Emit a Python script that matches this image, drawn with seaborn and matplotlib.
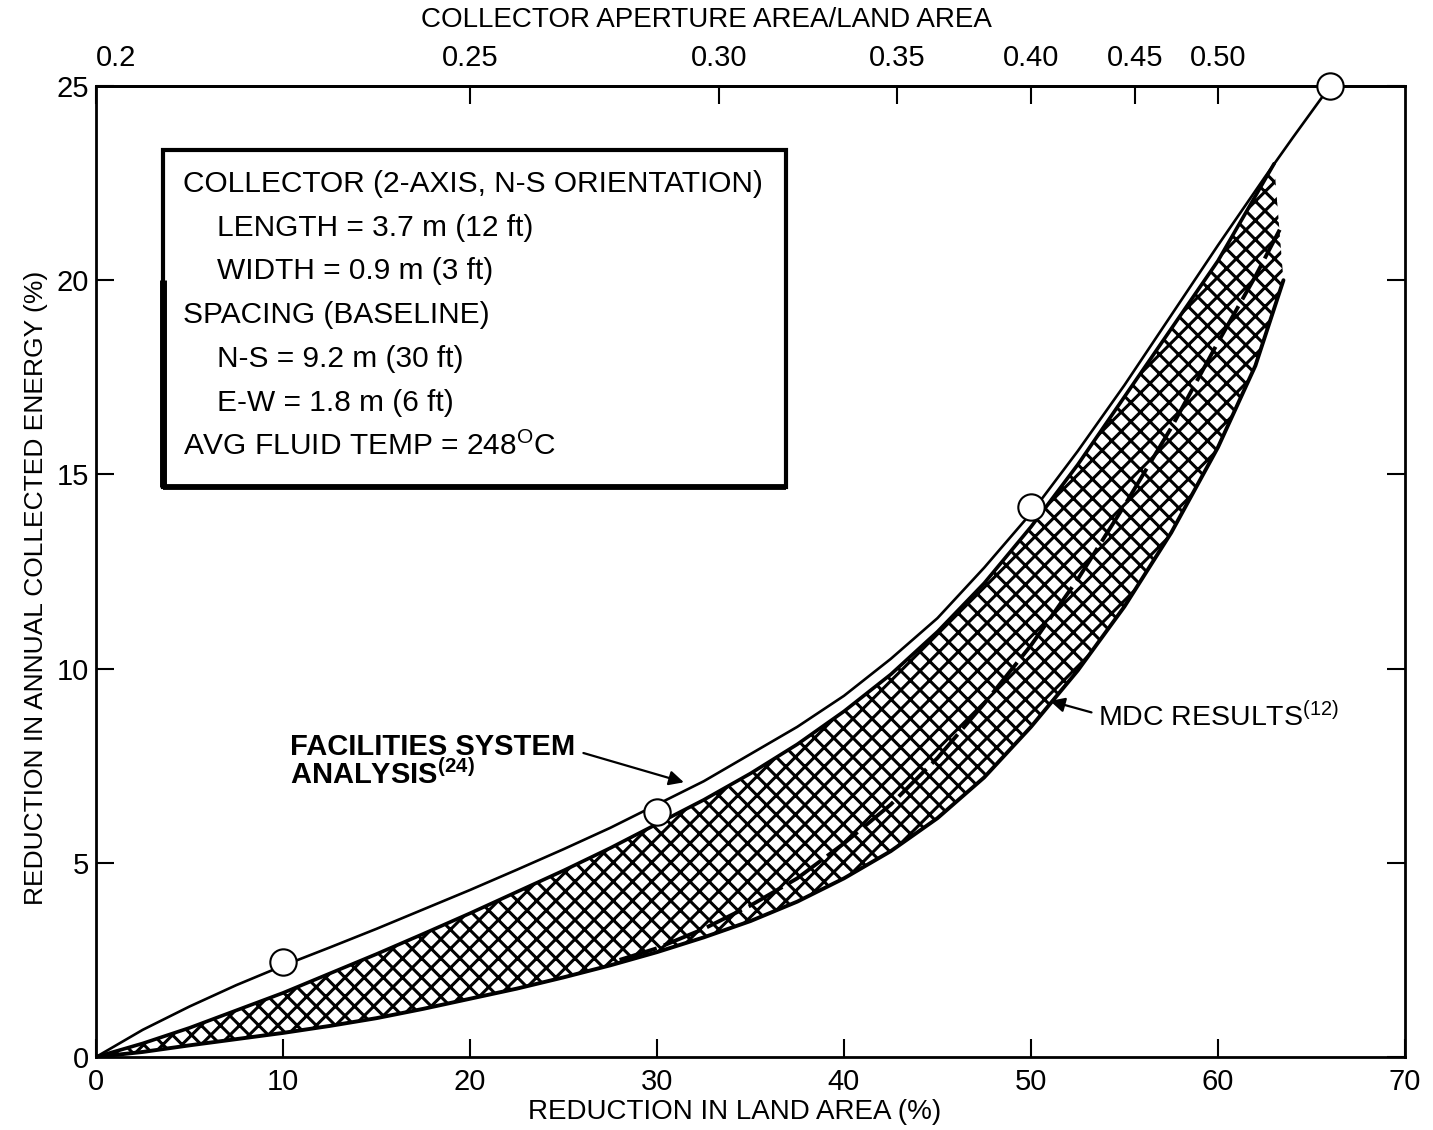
import numpy as np
import matplotlib
matplotlib.use("Agg")
import matplotlib.pyplot as plt
import seaborn as sns
from matplotlib.patches import Rectangle

# ---- data ----
land_fsa = [0, 2.5, 5, 7.5, 10, 12.5, 15, 17.5, 20, 22.5, 25, 27.5, 30, 32.5, 35, 37.5, 40,
            42.5, 45, 47.5, 50, 52.5, 55, 57.5, 60, 62.5, 64, 66]
energy_fsa = [0, 0.7, 1.3, 1.85, 2.35, 2.82, 3.3, 3.8, 4.3, 4.82, 5.35, 5.9, 6.5, 7.1, 7.8, 8.5, 9.3,
              10.25, 11.3, 12.6, 14.0, 15.6, 17.3, 19.1, 20.9, 22.65, 23.67, 25.0]

land_pts = [10, 30, 50, 66]
energy_pts = [2.45, 6.3, 14.15, 25.0]

land_band_top = [0, 2.5, 5, 7.5, 10, 12.5, 15, 17.5, 20, 22.5, 25, 27.5, 30, 32.5, 35, 37.5, 40,
                 42.5, 45, 47.5, 50, 52.5, 55, 57.5, 60, 63]
energy_band_top = [0, 0.35, 0.75, 1.2, 1.65, 2.15, 2.65, 3.17, 3.7, 4.25, 4.8, 5.38, 6.0, 6.62, 7.3,
                   8.05, 8.9, 9.85, 10.95, 12.2, 13.65, 15.25, 17.0, 18.75, 20.5, 23.0]

land_band_low = [0, 2.5, 5, 7.5, 10, 12.5, 15, 17.5, 20, 22.5, 25, 27.5, 30, 32.5, 35, 37.5, 40,
                 42.5, 45, 47.5, 50, 52.5, 55, 57.5, 60, 62, 63.5]
energy_band_low = [0, 0.13, 0.3, 0.46, 0.62, 0.8, 1.0, 1.24, 1.5, 1.76, 2.05, 2.36, 2.7, 3.08, 3.5,
                   4.0, 4.6, 5.3, 6.15, 7.2, 8.5, 9.95, 11.6, 13.5, 15.7, 17.8, 20.0]

land_mdc_mid = [28, 30, 32.5, 35, 37.5, 40, 42.5, 45, 47.5, 50, 52.5, 55, 57.5, 60, 62, 63.3]
energy_mdc_mid = [2.5, 2.8, 3.3, 3.9, 4.6, 5.5, 6.5, 7.7, 9.1, 10.6, 12.3, 14.2, 16.2, 18.4, 20.1, 21.3]

x_ticks = [0, 10, 20, 30, 40, 50, 60, 70]
y_ticks = [0, 5, 10, 15, 20, 25]
ratio_ticks = [0.2, 0.25, 0.30, 0.35, 0.40, 0.45, 0.50]
ratio_labels = ["0.2", "0.25", "0.30", "0.35", "0.40", "0.45", "0.50"]

box_lines = [
    ("COLLECTOR (2-AXIS, N-S ORIENTATION)", 0),
    ("LENGTH = 3.7 m (12 ft)", 1),
    ("WIDTH = 0.9 m (3 ft)", 1),
    ("SPACING (BASELINE)", 0),
    ("N-S = 9.2 m (30 ft)", 1),
    ("E-W = 1.8 m (6 ft)", 1),
    ("AVG FLUID TEMP = 248$^{O}$C", 0),
]

# ---- style ----
DPI = 115
S = 100.0 / DPI  # keep pixel sizes as designed at 100 dpi

sns.set_theme(style="ticks")
plt.rcParams["font.family"] = ["Liberation Sans", "DejaVu Sans"]
plt.rcParams["mathtext.default"] = "regular"
plt.rcParams["hatch.linewidth"] = 2.2 * S
plt.rcParams["hatch.color"] = "black"
for k in ["text.color", "axes.labelcolor", "xtick.color", "ytick.color", "axes.edgecolor"]:
    plt.rcParams[k] = "black"

fig = plt.figure(figsize=(1433 / DPI, 1130 / DPI), dpi=DPI)
ax = fig.add_axes([96 / 1433, 73 / 1130, 1309 / 1433, 971 / 1130])

# hatched band
poly_x = np.concatenate([land_band_top, land_band_low[::-1]])
poly_y = np.concatenate([energy_band_top, energy_band_low[::-1]])
ax.fill(poly_x, poly_y, facecolor="white", edgecolor="black", hatch="xx", linewidth=0, zorder=1)

sns.lineplot(x=land_band_top, y=energy_band_top, ax=ax, color="black", linewidth=2.6 * S, sort=False, zorder=3)
sns.lineplot(x=land_band_low, y=energy_band_low, ax=ax, color="black", linewidth=2.8 * S, sort=False, zorder=3)
sns.lineplot(x=land_mdc_mid, y=energy_mdc_mid, ax=ax, color="black", linewidth=2.8 * S, sort=False,
             linestyle=(0, (10, 2)), zorder=3)
sns.lineplot(x=land_fsa, y=energy_fsa, ax=ax, color="black", linewidth=1.9 * S, sort=False, zorder=3)
sns.scatterplot(x=land_pts, y=energy_pts, ax=ax, s=360 * S * S, facecolor="white", edgecolor="black",
                linewidth=1.5 * S, zorder=5, clip_on=False)

ax.set_xlim(0, 70)
ax.set_ylim(0, 25)
ax.set_xticks(x_ticks)
ax.set_yticks(y_ticks)
ax.tick_params(axis="both", direction="in", length=13 * S, width=1.5 * S, colors="black", labelsize=21 * S)
ax.tick_params(axis="y", right=True, pad=5 * S)
ax.tick_params(axis="x", top=False, pad=8 * S)
for s in ax.spines.values():
    s.set_visible(True)
    s.set_linewidth(2 * S)
    s.set_color("black")

ax.set_xlabel("REDUCTION IN LAND AREA (%)", fontsize=20 * S)
ax.xaxis.set_label_coords(0.488, -0.043)
ax.set_ylabel("REDUCTION IN ANNUAL COLLECTED ENERGY (%)", fontsize=19 * S)
ax.yaxis.set_label_coords(-0.037, 0.483)


def fwd(x):
    x = np.asarray(x, dtype=float)
    with np.errstate(divide="ignore", invalid="ignore"):
        return 0.2 / (1 - x / 100.0)


def inv(r):
    r = np.asarray(r, dtype=float)
    with np.errstate(divide="ignore", invalid="ignore"):
        return 100.0 * (1 - 0.2 / r)


secax = ax.secondary_xaxis("top", functions=(fwd, inv))
secax.set_xticks(ratio_ticks, labels=ratio_labels)
secax.tick_params(direction="in", length=13 * S, width=1.5 * S, labelsize=21 * S, pad=10 * S, colors="black")
secax.spines["top"].set_linewidth(2 * S)
secax.get_xticklabels()[0].set_ha("left")
fig.text(706 / 1433, 1 - 20 / 1130, "COLLECTOR APERTURE AREA/LAND AREA", fontsize=20 * S,
         ha="center", va="center")

# info box (with heavier left/bottom edges as in the reference)
ax.add_patch(Rectangle((0.051, 0.587), 0.476, 0.347, transform=ax.transAxes, fill=True,
                       facecolor="white", edgecolor="black", linewidth=3.0 * S, zorder=6))
ax.plot([0.051, 0.051], [0.587, 0.80], transform=ax.transAxes, color="black", lw=5 * S,
        solid_capstyle="butt", zorder=6)
ax.plot([0.051, 0.527], [0.587, 0.587], transform=ax.transAxes, color="black", lw=4.2 * S,
        solid_capstyle="butt", zorder=6)
y0 = 0.899
for i, (txt, ind) in enumerate(box_lines):
    ax.text(0.0665 + 0.026 * ind, y0 - i * 0.045, txt, transform=ax.transAxes, fontsize=21.5 * S,
            va="center", ha="left", zorder=7)

# annotations
ax.annotate("", xy=(31.6, 7.05), xytext=(25.9, 7.85),
            arrowprops=dict(arrowstyle="-|>", color="black", lw=1.6 * S, mutation_scale=22 * S), zorder=7)
ax.text(10.4, 8.35, "FACILITIES SYSTEM\nANALYSIS$^{(24)}$", fontsize=21 * S, fontweight="bold",
        va="top", ha="left", linespacing=0.95, zorder=7)
ax.annotate("", xy=(50.85, 9.19), xytext=(53.4, 8.85),
            arrowprops=dict(arrowstyle="-|>", color="black", lw=1.6 * S, mutation_scale=22 * S), zorder=7)
ax.text(53.6, 8.75, "MDC RESULTS$^{(12)}$", fontsize=20.5 * S, va="center", ha="left", zorder=7)

fig.savefig("out.png", dpi=DPI)
